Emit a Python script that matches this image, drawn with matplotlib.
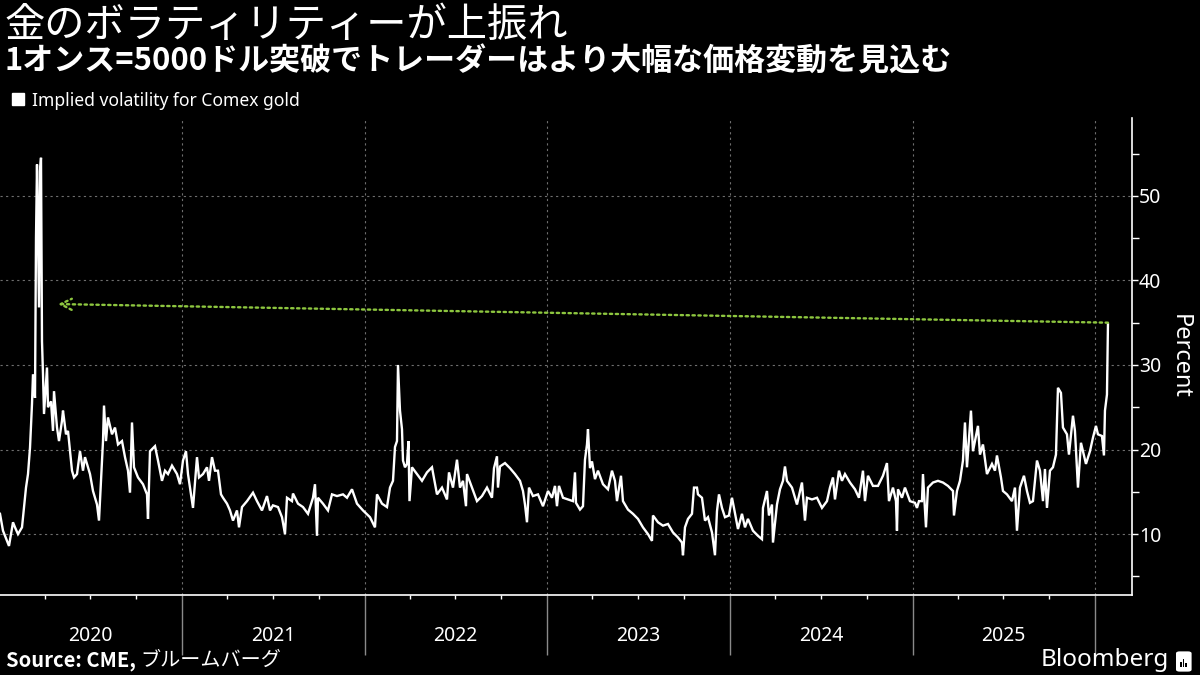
import matplotlib
matplotlib.use('Agg')
import matplotlib.pyplot as plt
import matplotlib.dates as mdates
from matplotlib.lines import Line2D
from matplotlib.patches import FancyBboxPatch, Rectangle
import pandas as pd

# Implied volatility for Comex gold (percent)
dates = [
    '2020-01-02', '2020-01-08', '2020-01-16', '2020-01-20', '2020-01-28', '2020-02-01', '2020-02-07',
    '2020-02-15', '2020-02-19', '2020-02-23', '2020-02-27', '2020-03-02', '2020-03-06', '2020-03-08',
    '2020-03-12', '2020-03-14', '2020-03-16', '2020-03-20', '2020-03-22', '2020-03-24', '2020-03-26',
    '2020-03-28', '2020-03-30', '2020-04-05', '2020-04-07', '2020-04-13', '2020-04-17', '2020-04-19',
    '2020-04-25', '2020-04-29', '2020-05-05', '2020-05-07', '2020-05-13', '2020-05-17', '2020-05-25',
    '2020-05-29', '2020-06-04', '2020-06-10', '2020-06-16', '2020-06-20', '2020-06-24', '2020-06-30',
    '2020-07-06', '2020-07-14', '2020-07-18', '2020-07-22', '2020-07-26', '2020-07-28', '2020-08-01',
    '2020-08-05', '2020-08-13', '2020-08-19', '2020-08-25', '2020-09-02', '2020-09-08', '2020-09-14',
    '2020-09-18', '2020-09-22', '2020-09-26', '2020-10-04', '2020-10-14', '2020-10-22', '2020-10-24',
    '2020-10-28', '2020-11-07', '2020-11-13', '2020-11-21', '2020-11-27', '2020-12-03', '2020-12-11',
    '2020-12-21', '2020-12-27',
    '2021-01-02', '2021-01-08', '2021-01-12', '2021-01-22', '2021-01-30', '2021-02-03', '2021-02-11',
    '2021-02-19', '2021-02-23', '2021-03-01', '2021-03-07', '2021-03-13', '2021-03-19', '2021-03-23',
    '2021-03-31', '2021-04-06', '2021-04-12', '2021-04-20', '2021-04-24', '2021-04-30', '2021-05-10',
    '2021-05-22', '2021-05-30', '2021-06-09', '2021-06-19', '2021-06-25', '2021-07-01', '2021-07-11',
    '2021-07-19', '2021-07-25', '2021-07-29', '2021-08-08', '2021-08-10', '2021-08-20', '2021-08-30',
    '2021-09-09', '2021-09-19', '2021-09-23', '2021-09-27', '2021-09-29', '2021-10-09', '2021-10-19',
    '2021-10-27', '2021-11-06', '2021-11-18', '2021-11-26', '2021-12-06', '2021-12-16', '2021-12-28',
    '2022-01-11', '2022-01-21', '2022-01-25', '2022-02-04', '2022-02-14', '2022-02-20', '2022-02-26',
    '2022-03-02', '2022-03-06', '2022-03-08', '2022-03-12', '2022-03-16', '2022-03-18', '2022-03-22',
    '2022-03-26', '2022-03-29', '2022-03-31', '2022-04-05', '2022-04-15', '2022-04-25', '2022-05-05',
    '2022-05-15', '2022-05-25', '2022-06-04', '2022-06-14', '2022-06-18', '2022-06-26', '2022-07-04',
    '2022-07-10', '2022-07-16', '2022-07-22', '2022-07-24', '2022-08-03', '2022-08-13', '2022-08-23',
    '2022-09-02', '2022-09-12', '2022-09-16', '2022-09-22', '2022-09-24', '2022-09-28', '2022-10-08',
    '2022-10-18', '2022-10-28', '2022-11-07', '2022-11-13', '2022-11-17', '2022-11-21', '2022-11-25',
    '2022-12-03', '2022-12-13', '2022-12-23',
    '2023-01-02', '2023-01-10', '2023-01-16', '2023-01-20', '2023-01-24', '2023-02-01', '2023-02-11',
    '2023-02-21', '2023-02-25', '2023-02-27', '2023-03-07', '2023-03-13', '2023-03-17', '2023-03-21',
    '2023-03-23', '2023-03-27', '2023-03-31', '2023-04-06', '2023-04-12', '2023-04-22', '2023-05-02',
    '2023-05-10', '2023-05-16', '2023-05-20', '2023-05-28', '2023-06-01', '2023-06-11', '2023-06-21',
    '2023-07-01', '2023-07-11', '2023-07-21', '2023-07-29', '2023-07-31', '2023-08-10', '2023-08-20',
    '2023-08-30', '2023-09-09', '2023-09-19', '2023-09-27', '2023-09-29', '2023-10-03', '2023-10-09',
    '2023-10-17', '2023-10-21', '2023-10-27', '2023-10-29', '2023-11-06', '2023-11-12', '2023-11-18',
    '2023-11-26', '2023-12-02', '2023-12-06', '2023-12-10', '2023-12-16', '2023-12-22', '2023-12-30',
    '2024-01-05', '2024-01-09', '2024-01-17', '2024-01-25', '2024-01-31', '2024-02-06', '2024-02-16',
    '2024-02-26', '2024-03-05', '2024-03-07', '2024-03-15', '2024-03-19', '2024-03-25', '2024-03-27',
    '2024-04-04', '2024-04-10', '2024-04-16', '2024-04-20', '2024-04-24', '2024-05-04', '2024-05-14',
    '2024-05-24', '2024-05-30', '2024-06-03', '2024-06-13', '2024-06-23', '2024-07-03', '2024-07-13',
    '2024-07-19', '2024-07-25', '2024-07-29', '2024-08-06', '2024-08-12', '2024-08-18', '2024-08-28',
    '2024-09-07', '2024-09-15', '2024-09-23', '2024-09-27', '2024-10-03', '2024-10-13', '2024-10-23',
    '2024-11-02', '2024-11-10', '2024-11-14', '2024-11-22', '2024-11-28', '2024-11-30', '2024-12-02',
    '2024-12-10', '2024-12-16', '2024-12-26',
    '2025-01-05', '2025-01-09', '2025-01-13', '2025-01-19', '2025-01-21', '2025-01-27', '2025-01-31',
    '2025-02-10', '2025-02-20', '2025-03-02', '2025-03-12', '2025-03-22', '2025-03-24', '2025-03-30',
    '2025-04-05', '2025-04-11', '2025-04-15', '2025-04-19', '2025-04-27', '2025-05-01', '2025-05-11',
    '2025-05-15', '2025-05-21', '2025-05-29', '2025-06-08', '2025-06-14', '2025-06-18', '2025-06-26',
    '2025-06-30', '2025-07-08', '2025-07-18', '2025-07-24', '2025-07-28', '2025-08-03', '2025-08-11',
    '2025-08-17', '2025-08-23', '2025-08-29', '2025-09-06', '2025-09-12', '2025-09-18', '2025-09-22',
    '2025-09-26', '2025-10-02', '2025-10-08', '2025-10-14', '2025-10-18', '2025-10-24', '2025-10-28',
    '2025-11-05', '2025-11-09', '2025-11-17', '2025-11-21', '2025-11-27', '2025-12-03', '2025-12-07',
    '2025-12-13', '2025-12-21', '2025-12-27',
    '2026-01-02', '2026-01-06', '2026-01-14', '2026-01-18', '2026-01-20', '2026-01-24', '2026-01-26',
]
vols = [
    12.4, 10.4, 9.2, 8.6, 11.4, 10.8, 10.0,
    10.8, 13.1, 15.5, 17.1, 20.2, 25.4, 28.9,
    26.1, 45.0, 53.7, 36.8, 52.9, 54.5, 32.8,
    28.9, 24.2, 29.7, 25.0, 25.7, 22.2, 26.9,
    22.6, 21.0, 23.4, 24.6, 21.8, 22.2, 17.5,
    16.7, 17.1, 19.8, 17.5, 19.1, 18.3, 17.1,
    15.1, 13.5, 11.6, 16.3, 21.0, 25.2, 21.0,
    23.8, 21.8, 22.6, 20.6, 21.0, 19.1, 17.5,
    14.9, 23.2, 17.9, 16.7, 15.9, 14.7, 11.8,
    19.8, 20.4, 18.7, 16.3, 17.5, 17.1, 18.1,
    17.1, 15.9,
    18.7, 19.8, 17.1, 13.1, 19.1, 16.7, 17.1,
    17.9, 16.3, 19.1, 17.5, 17.5, 14.7, 14.3,
    13.6, 12.8, 11.6, 12.8, 10.8, 13.2, 13.9,
    14.9, 13.9, 12.8, 14.5, 12.8, 13.4, 13.2,
    12.0, 10.0, 14.3, 13.9, 14.8, 13.6, 13.2,
    12.4, 14.3, 15.9, 9.8, 14.3, 13.6, 12.8,
    14.7, 14.5, 14.7, 14.3, 15.3, 13.6, 12.8,
    12.0, 10.8, 14.7, 13.6, 13.2, 15.5, 16.3,
    20.3, 21.0, 30.0, 24.6, 22.4, 18.7, 17.9,
    18.3, 21.0, 13.9, 17.9, 17.1, 16.3, 17.3,
    17.9, 14.7, 15.5, 14.1, 17.3, 15.5, 18.8,
    15.5, 16.3, 13.3, 17.1, 15.5, 13.9, 14.5,
    15.5, 14.3, 17.8, 19.2, 15.5, 18.0, 18.4,
    17.8, 17.1, 16.3, 15.1, 13.5, 11.4, 15.5,
    14.5, 14.7, 13.3,
    15.1, 14.3, 15.7, 13.3, 15.7, 14.3, 14.1,
    13.9, 17.3, 13.7, 12.9, 13.3, 18.8, 20.6,
    22.4, 17.8, 18.6, 16.5, 17.5, 15.9, 15.3,
    17.5, 16.3, 13.9, 16.9, 13.9, 12.9, 12.4,
    11.8, 10.8, 10.0, 9.2, 12.2, 11.4, 11.0,
    11.2, 10.2, 9.6, 9.0, 7.5, 10.8, 11.8,
    12.4, 15.5, 15.5, 14.7, 14.3, 11.6, 12.0,
    10.2, 7.5, 12.7, 14.7, 13.1, 12.0, 12.2,
    14.3, 13.1, 10.6, 12.4, 10.8, 11.8, 10.4,
    9.8, 9.4, 13.1, 15.1, 12.2, 13.5, 9.0,
    13.5, 15.3, 16.3, 18.0, 16.3, 15.5, 13.5,
    16.1, 11.6, 14.3, 14.1, 14.3, 13.1, 13.9,
    15.5, 16.7, 14.1, 17.5, 16.3, 17.1, 16.1,
    15.3, 14.3, 17.5, 13.9, 16.9, 15.7, 15.7,
    16.9, 18.4, 13.9, 15.5, 13.9, 10.4, 15.3,
    14.3, 15.5, 13.9,
    13.7, 13.1, 13.9, 13.9, 17.1, 10.8, 15.5,
    16.1, 16.3, 16.1, 15.7, 15.1, 12.2, 15.1,
    16.3, 18.7, 23.2, 17.9, 24.6, 19.8, 22.8,
    19.4, 20.6, 17.1, 18.3, 17.5, 19.3, 16.7,
    15.1, 14.7, 13.9, 15.5, 10.4, 15.5, 16.9,
    15.1, 13.7, 13.9, 18.7, 17.5, 13.9, 17.7,
    13.1, 17.5, 17.9, 19.4, 27.3, 26.7, 22.6,
    21.8, 19.4, 24.0, 22.2, 15.5, 20.8, 19.8,
    18.3, 19.8, 21.4,
    22.8, 21.8, 21.6, 19.3, 24.6, 26.5, 34.8,
]

# annotation: today's level pointing back to the 2020 spike
arrow_start = ('2026-01-26', 35.0)
arrow_end = ('2020-04-27', 37.2)

x_range = ('2020-01-02', '2026-03-15')
y_range = (2.8, 59.2)
y_major = [10, 20, 30, 40, 50]
y_minor = [5, 15, 25, 35, 45, 55]

JP = ['Noto Sans CJK JP', 'DejaVu Sans']
LAT = ['Noto Sans', 'DejaVu Sans']
GREEN = '#8dc63f'
GRID = '#6e6e6e'

plt.rcParams['font.family'] = LAT
plt.rcParams['axes.facecolor'] = 'black'
plt.rcParams['figure.facecolor'] = 'black'

x = pd.to_datetime(dates)

fig = plt.figure(figsize=(12, 6.75), dpi=100)
ax = fig.add_axes([0.0, 0.1185, 0.9433, 0.7067])

ax.plot(x, vols, color='white', linewidth=1.7, solid_joinstyle='miter')

ax.annotate('', xy=(pd.Timestamp(arrow_end[0]), arrow_end[1]),
            xytext=(pd.Timestamp(arrow_start[0]), arrow_start[1]),
            arrowprops=dict(arrowstyle='->,head_length=0.8,head_width=0.4',
                            color=GREEN, linestyle=(0, (1, 1.5)), linewidth=1.7,
                            shrinkA=0, shrinkB=0))

ax.set_xlim(pd.Timestamp(x_range[0]), pd.Timestamp(x_range[1]))
ax.set_ylim(*y_range)

# y axis on the right
ax.yaxis.tick_right()
ax.yaxis.set_label_position('right')
ax.set_yticks(y_major)
ax.set_yticks(y_minor, minor=True)
ax.tick_params(axis='y', which='major', colors='white', labelsize=14, length=4, width=1, pad=1)
ax.tick_params(axis='y', which='minor', colors='white', length=5, width=1)
ax.set_ylabel('Percent', rotation=270, color='white', fontsize=17, labelpad=22)

# x axis: long gray separators at year starts, year labels mid-year
ax.xaxis.set_major_locator(mdates.YearLocator())
ax.xaxis.set_major_formatter(plt.NullFormatter())
ax.xaxis.set_minor_locator(mdates.MonthLocator(bymonth=[4, 7, 10]))
ax.xaxis.set_minor_formatter(plt.FuncFormatter(
    lambda v, pos: str(mdates.num2date(v).year) if mdates.num2date(v).month == 7 else ''))
ax.tick_params(axis='x', which='major', color='#8a8a8a', length=43, width=1)
ax.tick_params(axis='x', which='minor', color='white', length=3, width=1,
               labelcolor='white', labelsize=14, pad=19)

ax.grid(True, which='major', color=GRID, linestyle=(0, (2, 3)), linewidth=0.8)

for side in ['left', 'top']:
    ax.spines[side].set_visible(False)
for side in ['right', 'bottom']:
    ax.spines[side].set_color('white')
    ax.spines[side].set_linewidth(1.2)

# titles
fig.text(0.004, 0.962, '金のボラティリティーが上振れ', color='white', fontsize=29,
         va='center', ha='left', family=JP)
fig.text(0.004, 0.908, '1オンス=5000ドル突破でトレーダーはより大幅な価格変動を見込む',
         color='white', fontsize=22.3, fontweight='bold', va='center', ha='left', family=JP)

# legend
handle = Line2D([], [], marker='s', color='white', linestyle='none', markersize=9)
leg = fig.legend([handle], ['Implied volatility for Comex gold'], loc='center left',
                 bbox_to_anchor=(-0.004, 0.851), frameon=False, fontsize=12.6,
                 handlelength=0.8, handletextpad=0.4, labelcolor='white')

# footer
src = fig.text(0.005, 0.021, 'Source: CME,', color='white', fontsize=14.5,
               fontweight='bold', va='center', ha='left', family=JP)
fig.canvas.draw()
bb = src.get_window_extent()
fig.text(bb.x1 / fig.bbox.width + 0.004, 0.021, 'ブルームバーグ', color='white',
         fontsize=14.5, va='center', ha='left', family=JP)

fig.text(0.974, 0.022, 'Bloomberg', color='white', fontsize=17.5, fontweight='bold',
         va='center', ha='right', family=LAT)
icon = FancyBboxPatch((0.981, 0.006), 0.011, 0.028, boxstyle='round,pad=0.001,rounding_size=0.003',
                      transform=fig.transFigure, facecolor='white', edgecolor='none')
fig.patches.append(icon)
for i, h in enumerate([0.008, 0.012, 0.006]):
    fig.patches.append(Rectangle((0.9835 + i * 0.0022, 0.012), 0.0012, h,
                                 transform=fig.transFigure, facecolor='black', edgecolor='none'))

fig.savefig('out.png', dpi=100, facecolor='black')
